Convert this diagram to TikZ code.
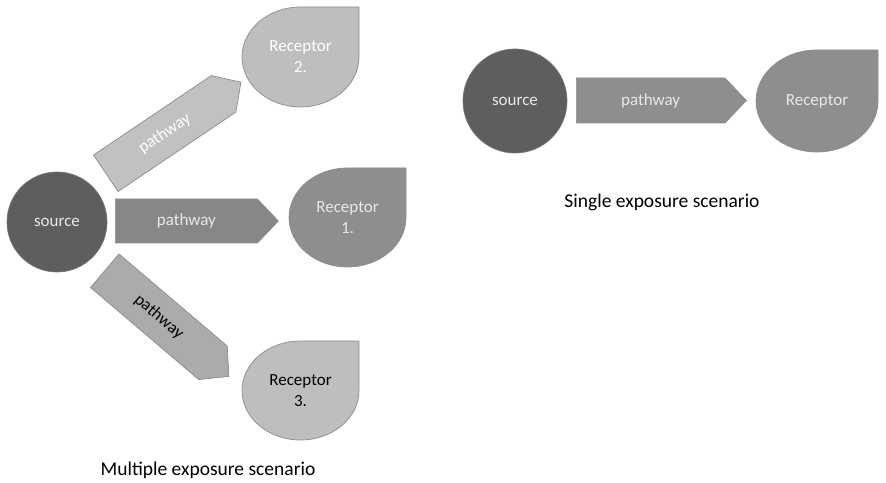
\documentclass[tikz,border=0pt]{standalone}
\usepackage{fontspec}
\setmainfont{Carlito}
\usetikzlibrary{positioning,calc,shapes.arrows}
\definecolor{darkgrey}{HTML}{5E5E5E}
\definecolor{midgrey}{HTML}{8E8E8E}
\definecolor{lightgrey}{HTML}{BEBEBE}
\definecolor{paletext}{HTML}{E8E8E8}
\tikzset{
  srcnode/.style={circle,fill=darkgrey,draw=black!55,line width=0.7pt,text=paletext,font=\fontsize{17}{21}\selectfont},
  pathnode/.style={single arrow,single arrow head extend=0pt,single arrow tip angle=93,
    inner sep=0pt,minimum width=44,minimum height=163,draw=black!45,line width=0.7pt,
    anchor=tail,font=\fontsize{17}{21}\selectfont},
  recnode/.style={align=center,font=\fontsize{17}{21}\selectfont},
  drop/.style={draw=black!45,line width=0.7pt},
  caption/.style={font=\fontsize{19.5}{23}\selectfont}
}

\begin{document}
\begin{tikzpicture}[x=1pt,y=1pt]
\useasboundingbox (0,0) rectangle (886,482);

% Multiple exposure scenario
\node[srcnode,minimum size=100] (src) at (57,260) {source};

% Receptors as drops (corner at top right)
\draw[drop,fill=midgrey] (347.5,314) -- (406,314) -- (406,264.5)
   arc [start angle=0,end angle=-270,x radius=58.5,y radius=49.5] -- cycle;
\node[recnode,text=paletext] (rec1) at (347.5,264.5) {Receptor\\1.};

\draw[drop,fill=lightgrey] (300.5,475) -- (359,475) -- (359,425)
   arc [start angle=0,end angle=-270,x radius=58.5,y radius=50] -- cycle;
\node[recnode,text=white] (rec2) at (300.5,425) {Receptor\\2.};

\draw[drop,fill=lightgrey] (300.5,141) -- (359,141) -- (359,91.5)
   arc [start angle=0,end angle=-270,x radius=58.5,y radius=49.5] -- cycle;
\node[recnode,text=black] (rec3) at (300.5,91.5) {Receptor\\3.};

% Pathways, placed by their tail
\node[pathnode,fill=midgrey!95!black,text=paletext] (path1) at (115,261) {pathway};
\node[pathnode,fill=lightgrey!95!white,text=white,rotate=34] (path2) at (105.5,308.5) {pathway};
\node[pathnode,fill=lightgrey!90!black,text=black,rotate=-40.4] (path3) at (104.5,211.5) {pathway};

\node[caption] (multi) at (208,12) {Multiple exposure scenario};

% Single exposure scenario
\node[srcnode,minimum size=104] (ssrc) at (515,381) {source};
\node[pathnode,fill=midgrey,text=paletext,minimum height=170,minimum width=45] (spath) at (576,381.5) {pathway};
\draw[drop,fill=midgrey] (817,432) -- (878,432) -- (878,381)
   arc [start angle=0,end angle=-270,x radius=61,y radius=51] -- cycle;
\node[recnode,text=paletext] (srec) at (817,381) {Receptor};

\node[caption] (single) at (662,280) {Single exposure scenario};
\end{tikzpicture}
\end{document}
